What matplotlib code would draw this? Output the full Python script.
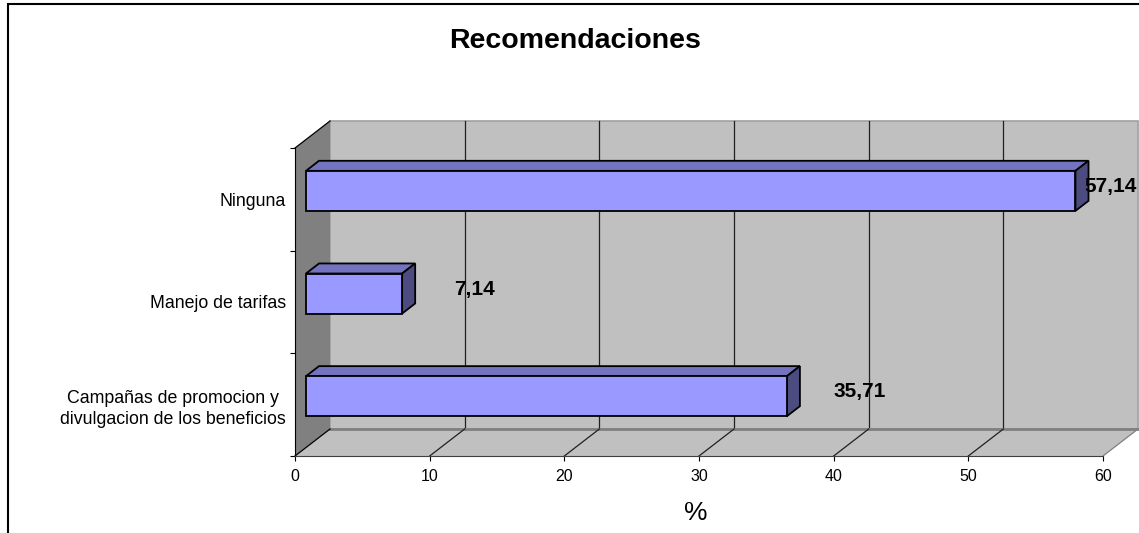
import matplotlib.pyplot as plt
from matplotlib.patches import Polygon, Rectangle

plt.rcParams['font.family'] = ['Liberation Sans', 'DejaVu Sans']

# Datos del grafico
categorias = ["Campañas de promocion y\ndivulgacion de los beneficios",
              "Manejo de tarifas",
              "Ninguna"]
valores = [35.71, 7.14, 57.14]
marcas_x = [0, 10, 20, 30, 40, 50, 60]

XMAX = 60
N = len(categorias)

# profundidad del efecto 3D (en unidades de datos)
DX = 2.6
DY = 0.263
F0, F1 = 0.314, 0.686   # cara frontal / trasera de las barras
ALTO = 0.39

c_frente = '#9999FF'
c_arriba = '#7373BF'
c_lado = '#4C4C80'
c_pared = '#C0C0C0'
c_lateral = '#808080'

fig = plt.figure(figsize=(11.39, 5.33), dpi=100)
ax = fig.add_axes([295 / 1139, 77 / 533, 808 / 1139, 308 / 533])
ax.set_xlim(0, XMAX)
ax.set_ylim(0, N)
ax.patch.set_visible(False)


def poly(pts, fc, ec='none', lw=0, z=1):
    ax.add_patch(Polygon(pts, closed=True, facecolor=fc, edgecolor=ec,
                         linewidth=lw, zorder=z, clip_on=False,
                         joinstyle='miter'))


# pared del fondo
poly([(DX, DY), (XMAX + DX, DY), (XMAX + DX, N + DY), (DX, N + DY)],
     c_pared, '#A0A0A0', 1.2, 1)
for v in marcas_x[1:-1]:
    ax.plot([v + DX, v + DX], [DY, N + DY], color='#202020', lw=0.9,
            zorder=2, clip_on=False)

# piso
poly([(0, 0), (XMAX, 0), (XMAX + DX, DY), (DX, DY)], c_pared, 'none', 0, 2)
ax.plot([DX, XMAX + DX], [DY, DY], color='#808080', lw=2, zorder=3,
        clip_on=False)
for v in marcas_x[1:]:
    ax.plot([v, v + DX], [0, DY], color='#202020' if v < XMAX else '#808080',
            lw=0.9, zorder=3, clip_on=False)

# pared lateral izquierda
poly([(0, 0), (DX, DY), (DX, N + DY), (0, N)], c_lateral, 'none', 0, 3)
ax.plot([0, DX], [N, N + DY], color='black', lw=0.9, zorder=4, clip_on=False)
ax.plot([0, DX], [0, DY], color='black', lw=0.9, zorder=4, clip_on=False)

# barras
for i, v in enumerate(valores):
    y0 = i + 0.5 - ALTO / 2 + F0 * DY
    y1 = y0 + ALTO
    x0 = F0 * DX
    ddx = (F1 - F0) * DX
    ddy = (F1 - F0) * DY
    poly([(x0, y1), (x0 + v, y1), (x0 + v + ddx, y1 + ddy), (x0 + ddx, y1 + ddy)],
         c_arriba, 'black', 1.3, 5)
    poly([(x0 + v, y0), (x0 + v + ddx, y0 + ddy), (x0 + v + ddx, y1 + ddy),
          (x0 + v, y1)], c_lado, 'black', 1.3, 5)
    poly([(x0, y0), (x0 + v, y0), (x0 + v, y1), (x0, y1)],
         c_frente, 'black', 1.3, 6)
    texto = f"{v:.2f}".replace('.', ',')
    ax.text(min(v + 6.2, 60.6), i + 0.5 + 0.125, texto, ha='center',
            va='center', fontsize=15, fontweight='bold', zorder=8)

# ejes
for s in ('top', 'right'):
    ax.spines[s].set_visible(False)
ax.spines['left'].set_color('black')
ax.spines['bottom'].set_color('#404040')
for s in ('left', 'bottom'):
    ax.spines[s].set_zorder(7)

ax.set_xticks(marcas_x)
ax.tick_params(axis='x', direction='out', length=3.6, width=0.8,
               pad=6, labelsize=11.5)
ax.set_yticks([i + 0.5 for i in range(N)])
ax.set_yticklabels(categorias, fontsize=12.8, multialignment='center')
for etiqueta in ax.get_yticklabels():
    etiqueta.set_linespacing(1.3)
ax.set_yticks(range(N + 1), minor=True)
ax.tick_params(axis='y', which='major', length=0, pad=6.5)
ax.tick_params(axis='y', which='minor', direction='out', length=3.6,
               width=0.8)

ax.set_xlabel('%', fontsize=19, va='center')
ax.xaxis.set_label_coords(0.496, -0.185)

fig.text(575 / 1139, 1 - 41 / 533, 'Recomendaciones', ha='center',
         va='center', fontsize=20.5, fontweight='bold')

# marco del grafico
fig.add_artist(Rectangle((8 / 1139, -0.2), 1.2, 1.2 - 4 / 533,
                         transform=fig.transFigure, fill=False,
                         edgecolor='black', linewidth=1.5))

fig.savefig('out.png', dpi=100)
